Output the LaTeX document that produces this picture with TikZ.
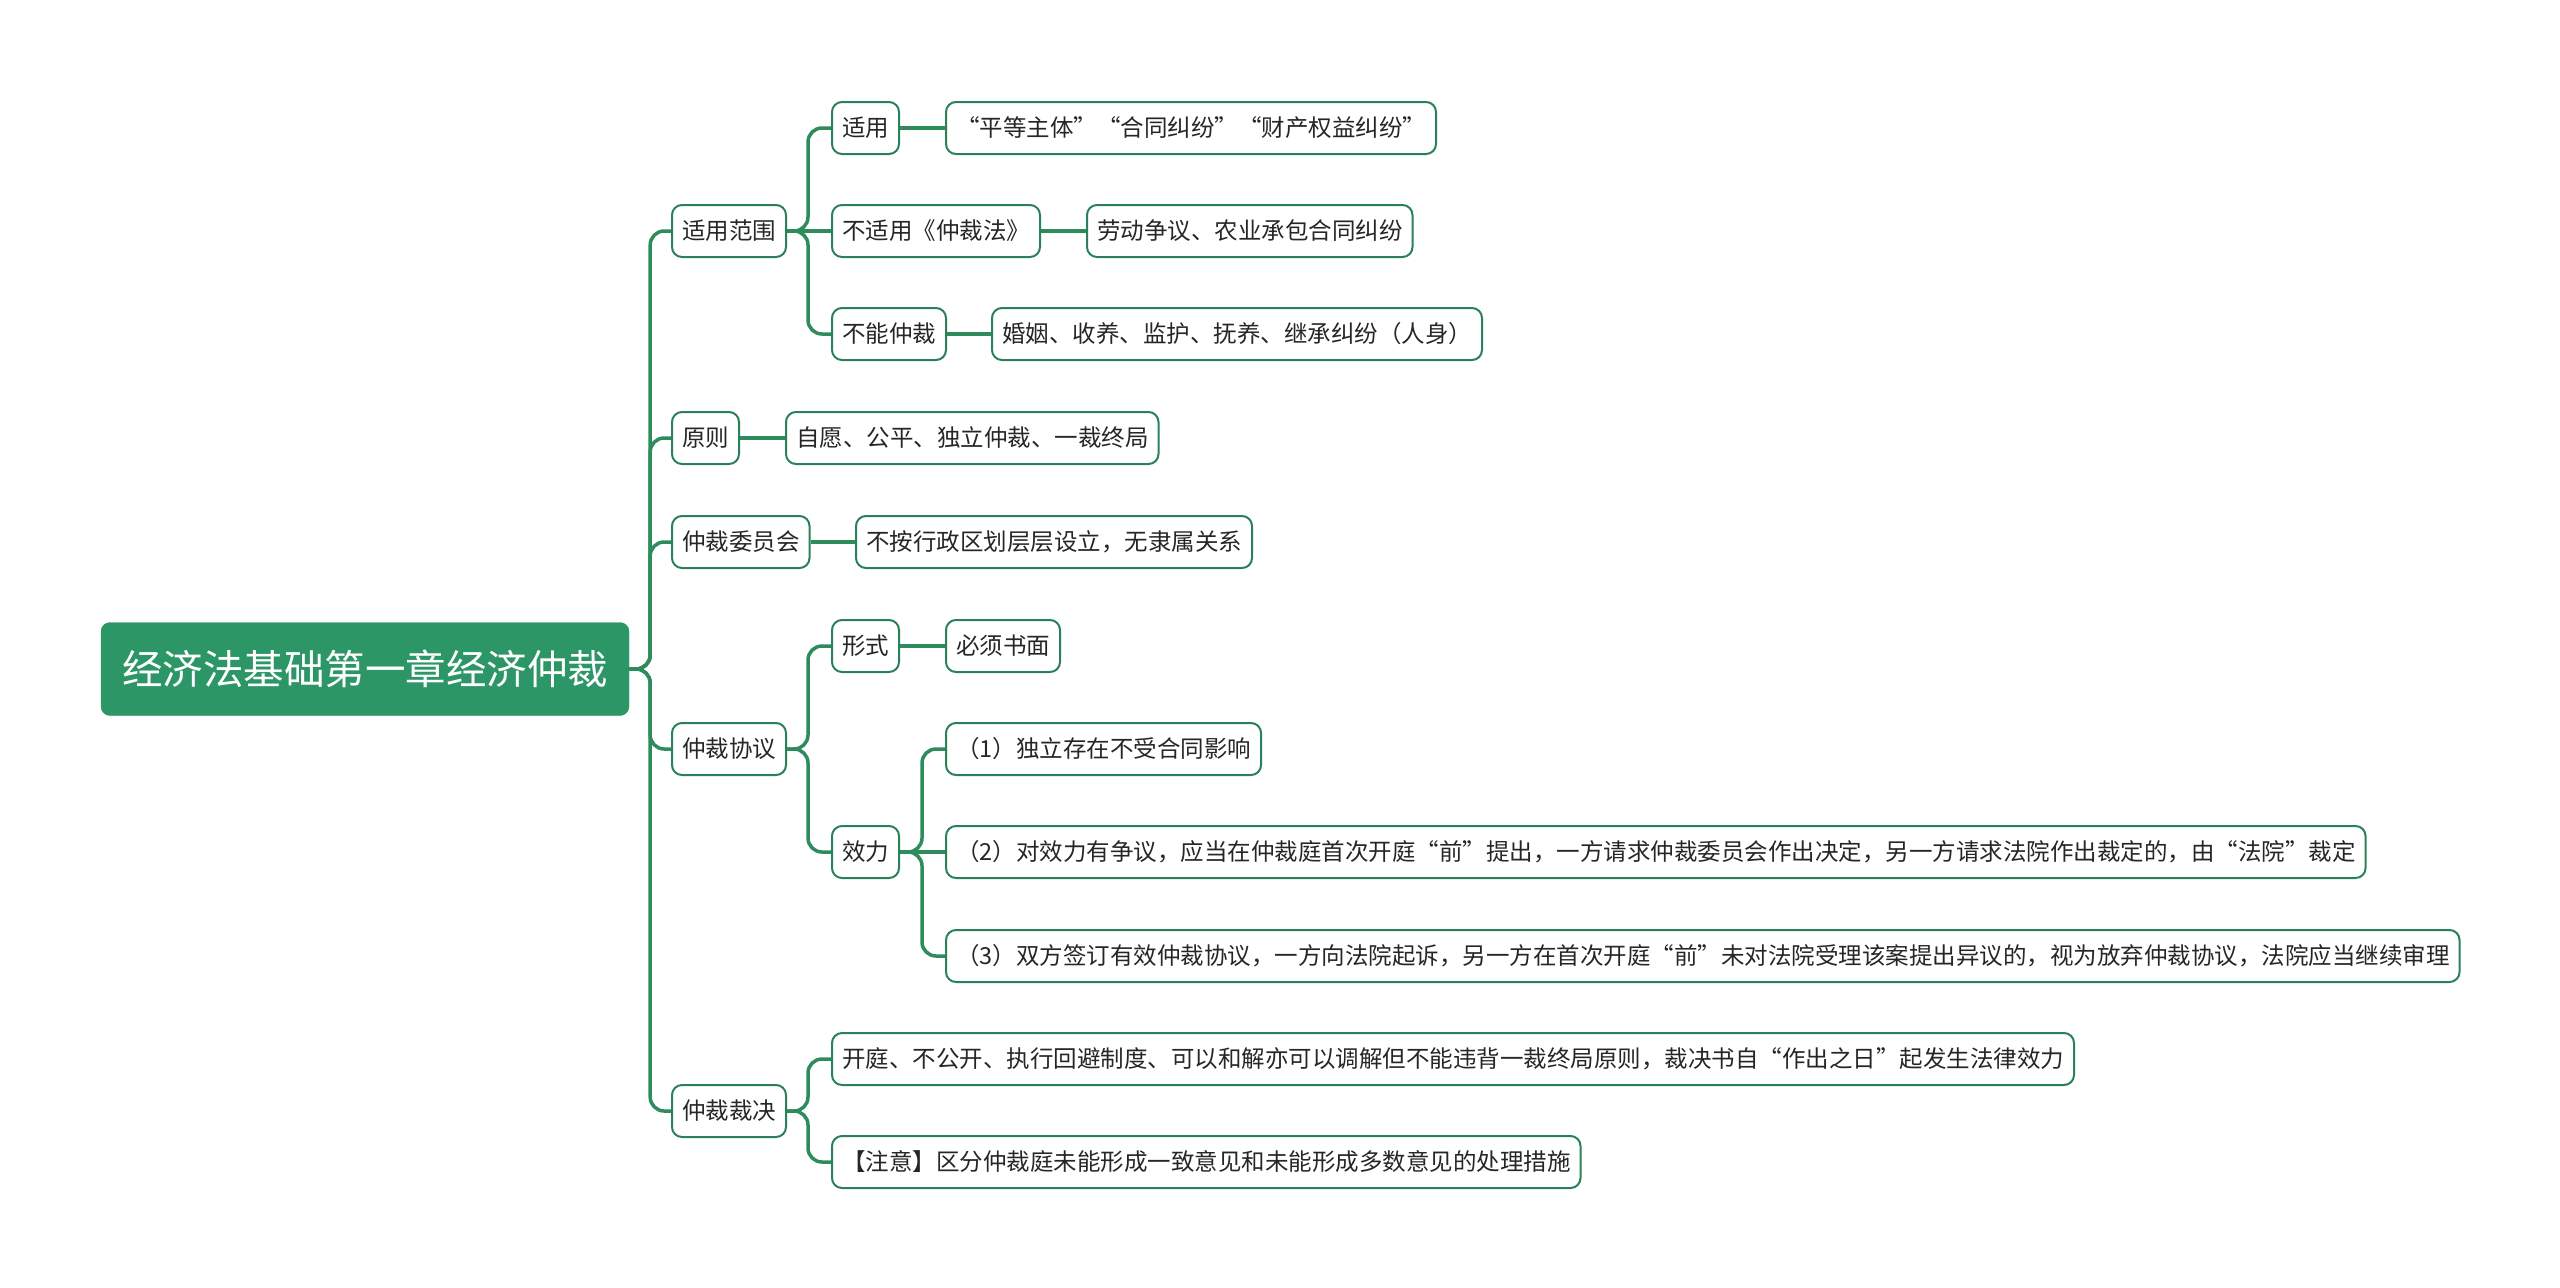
\documentclass[tikz,border=0pt]{standalone}
\usepackage{fontspec}
\setmainfont{Noto Sans CJK SC}
\usetikzlibrary{positioning, calc}
\definecolor{mmfill}{RGB}{44,150,102}
\definecolor{mmbox}{RGB}{42,128,88}
\definecolor{mmedge}{RGB}{46,139,92}
\tikzset{
  rootbox/.style = {draw=mmfill, fill=mmfill, rounded corners=9pt, text=white,
                    font=\fontsize{40.5}{48}\selectfont, minimum width=528pt,
                    minimum height=93pt, inner sep=0pt},
  blk/.style     = {draw=mmbox, line width=2pt, rounded corners=10pt, anchor=west,
                    font=\fontsize{23.5}{28}\selectfont, text=black!85,
                    inner xsep=10pt, inner ysep=0pt, minimum height=52pt},
  ln/.style      = {draw=mmedge, line width=3.5pt, rounded corners=14pt},
}
\begin{document}
\begin{tikzpicture}[x=1pt, y=-1pt]
    \useasboundingbox (0,0) rectangle (2560,1288);
    \node[rootbox] (root) at (365,669) {经济法基础第一章经济仲裁};
    % first level
    \node[blk] (fw)  at (671,231)  {适用范围};
    \node[blk] (yz)  at (671,438)  {原则};
    \node[blk] (wyh) at (671,542)  {仲裁委员会};
    \node[blk] (xy)  at (671,749)  {仲裁协议};
    \node[blk] (cj)  at (671,1111) {仲裁裁决};
    % second level
    \node[blk] (sy)   at (831,128) {适用};
    \node[blk] (bsy)  at (831,231) {不适用《仲裁法》};
    \node[blk] (bn)   at (831,334) {不能仲裁};
    \node[blk] (yz1)  at (785,438) {自愿、公平、独立仲裁、一裁终局};
    \node[blk] (wyh1) at (855,542) {不按行政区划层层设立，无隶属关系};
    \node[blk] (xs)   at (831,646) {形式};
    \node[blk] (xl)   at (831,852) {效力};
    \node[blk] (cj1)  at (831,1059) {开庭、不公开、执行回避制度、可以和解亦可以调解但不能违背一裁终局原则，裁决书自“作出之日”起发生法律效力};
    \node[blk] (cj2)  at (831,1162) {【注意】区分仲裁庭未能形成一致意见和未能形成多数意见的处理措施};
    % third level
    \node[blk] (sy1)  at (945,128)  {“平等主体”“合同纠纷”“财产权益纠纷”};
    \node[blk] (bsy1) at (1086,231) {劳动争议、农业承包合同纠纷};
    \node[blk] (bn1)  at (991,334)  {婚姻、收养、监护、抚养、继承纠纷（人身）};
    \node[blk] (xs1)  at (945,646)  {必须书面};
    \node[blk] (xl1)  at (945,749)  {（1）独立存在不受合同影响};
    \node[blk] (xl2)  at (945,852)  {（2）对效力有争议，应当在仲裁庭首次开庭“前”提出，一方请求仲裁委员会作出决定，另一方请求法院作出裁定的，由“法院”裁定};
    \node[blk] (xl3)  at (945,956)  {（3）双方签订有效仲裁协议，一方向法院起诉，另一方在首次开庭“前”未对法院受理该案提出异议的，视为放弃仲裁协议，法院应当继续审理};
    % connectors
    \foreach \c in {fw,yz,wyh,xy,cj}
      \draw[ln] (root.east) -- ++(21,0) |- (\c.west);
    \foreach \c in {sy,bn}
      \draw[ln] (fw.east) -- ++(21,0) |- (\c.west);
    \draw[ln] (fw) -- (bsy);
    \foreach \c in {xs,xl}
      \draw[ln] (xy.east) -- ++(21,0) |- (\c.west);
    \foreach \c in {cj1,cj2}
      \draw[ln] (cj.east) -- ++(21,0) |- (\c.west);
    \foreach \c in {xl1,xl3}
      \draw[ln] (xl.east) -- ++(22,0) |- (\c.west);
    \draw[ln] (xl) -- (xl2);
    \draw[ln] (sy) -- (sy1);
    \draw[ln] (bsy) -- (bsy1);
    \draw[ln] (bn) -- (bn1);
    \draw[ln] (yz) -- (yz1);
    \draw[ln] (wyh) -- (wyh1);
    \draw[ln] (xs) -- (xs1);
  \end{tikzpicture}
\end{document}
